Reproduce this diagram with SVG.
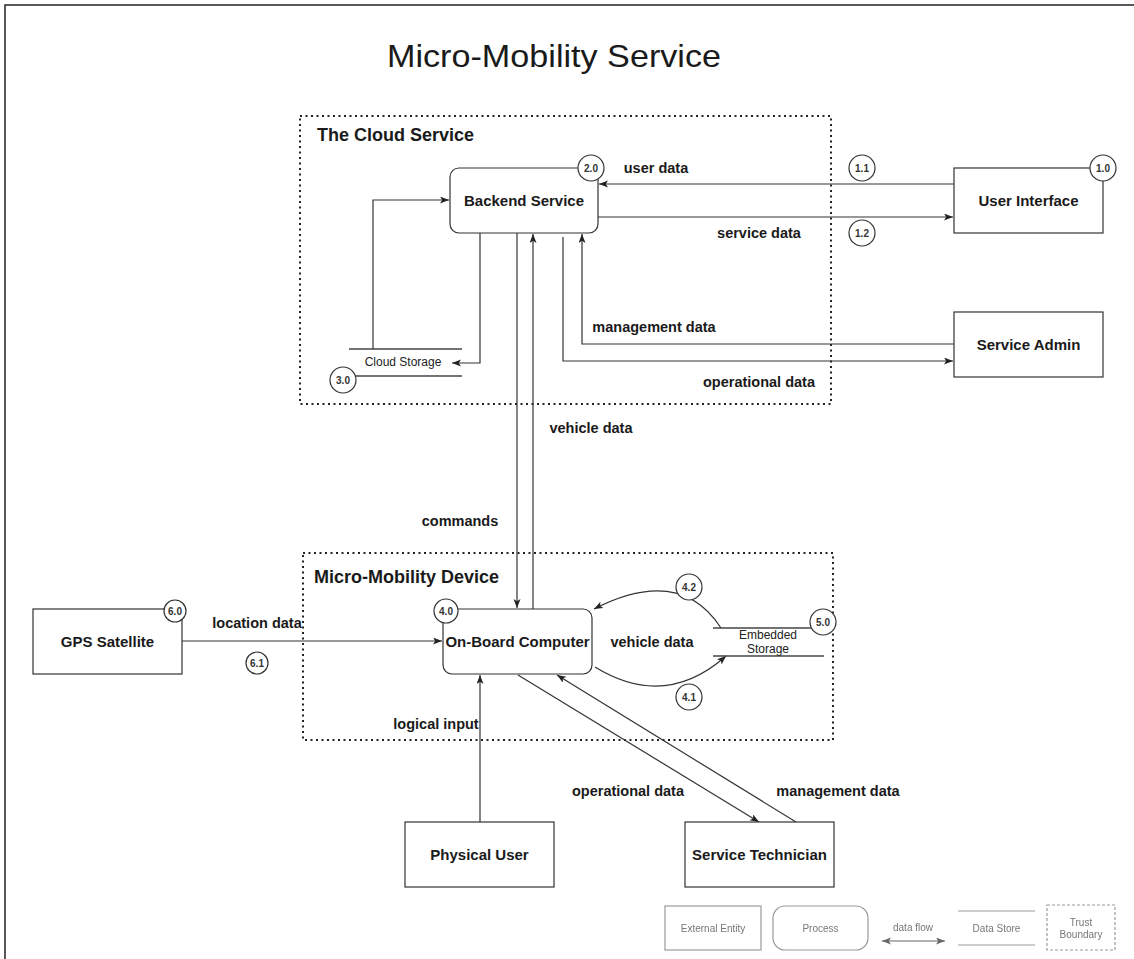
<svg xmlns="http://www.w3.org/2000/svg" width="1134" height="959" viewBox="0 0 1134 959">
  <style>
    text { font-family: "Liberation Sans", Arial, sans-serif; fill: #1a1a1a; }
    .box { fill: #fff; stroke: #333; stroke-width: 1.2; }
    .name { font-size: 15px; font-weight: bold; text-anchor: middle; }
    .flow { font-size: 14.5px; font-weight: bold; text-anchor: middle; }
    .heading { font-size: 18px; font-weight: bold; }
    .num circle { fill: #fff; stroke: #333; stroke-width: 1.2; }
    .num text { font-size: 10px; font-weight: bold; text-anchor: middle; fill: #333; }
    .boundary { fill: none; stroke: #222; stroke-width: 2; stroke-dasharray: 2 3.5; }
    .store { stroke: #444; stroke-width: 1.5; }
    .store-text { font-size: 12px; text-anchor: middle; fill: #222; }
    #connectors path { fill: none; stroke: #333; stroke-width: 1.2; marker-end: url(#arrow); }
    #legend text { font-size: 10px; text-anchor: middle; fill: #777; }
    #legend .shape { fill: none; stroke: #9a9a9a; stroke-width: 1.2; }
  </style>
  <defs>
    <marker id="arrow" markerUnits="userSpaceOnUse" markerWidth="10" markerHeight="8" refX="9" refY="3.5" orient="auto">
      <path d="M0,0 L9,3.5 L0,7 L2.2,3.5 Z" fill="#222"/>
    </marker>
    <marker id="arrow-grey" markerUnits="userSpaceOnUse" markerWidth="10" markerHeight="8" refX="9" refY="3.5" orient="auto-start-reverse">
      <path d="M0,0 L9,3.5 L0,7 L2.2,3.5 Z" fill="#666"/>
    </marker>
    <filter id="soft" x="-5%" y="-5%" width="110%" height="110%">
      <feGaussianBlur stdDeviation="0.4"/>
    </filter>
  </defs>

  <!-- page frame -->
  <path d="M5,959 V5 H1134" fill="none" stroke="#222" stroke-width="1.5"/>

  <!-- title -->
  <text x="387" y="67" font-size="32" textLength="334" lengthAdjust="spacingAndGlyphs">Micro-Mobility Service</text>

  <!-- trust boundaries -->
  <g id="cloud-boundary">
    <rect class="boundary" x="300" y="116" width="531" height="288"/>
    <text class="heading" x="317" y="141">The Cloud Service</text>
  </g>
  <g id="device-boundary">
    <rect class="boundary" x="303" y="553" width="530" height="187"/>
    <text class="heading" x="314" y="583">Micro-Mobility Device</text>
  </g>

  <!-- data flows -->
  <g id="connectors">
    <path d="M954,184 H599"/>
    <path d="M598,217 H953"/>
    <path d="M954,344 H582 V234"/>
    <path d="M563,237 V361 H953"/>
    <path d="M373,349 V200 H449"/>
    <path d="M480,233 V363 H452"/>
    <path d="M517,233 V608"/>
    <path d="M533,609 V234"/>
    <path d="M182,641 H442"/>
    <path d="M721,628 Q680,565 594,609"/>
    <path d="M595,667 Q665,710 726,656"/>
    <path d="M480,822 V675"/>
    <path d="M518,675 L759,822"/>
    <path d="M796,822 L557,675"/>
  </g>

  <!-- flow labels -->
  <g id="flow-labels">
    <text class="flow" x="656" y="173">user data</text>
    <text class="flow" x="759" y="238">service data</text>
    <text class="flow" x="654" y="332">management data</text>
    <text class="flow" x="759" y="387">operational data</text>
    <text class="flow" x="591" y="433">vehicle data</text>
    <text class="flow" x="460" y="526">commands</text>
    <text class="flow" x="257" y="628">location data</text>
    <text class="flow" x="652" y="647">vehicle data</text>
    <text class="flow" x="436" y="729">logical input</text>
    <text class="flow" x="628" y="796">operational data</text>
    <text class="flow" x="838" y="796">management data</text>
  </g>

  <!-- nodes -->
  <g id="user-interface">
    <rect class="box" x="954" y="168" width="149" height="65"/>
    <text class="name" x="1028.5" y="205.5">User Interface</text>
  </g>
  <g id="service-admin">
    <rect class="box" x="954" y="312" width="149" height="65"/>
    <text class="name" x="1028.5" y="349.5">Service Admin</text>
  </g>
  <g id="backend-service">
    <rect class="box" x="450" y="168" width="148" height="65" rx="9"/>
    <text class="name" x="524" y="205.5">Backend Service</text>
  </g>
  <g id="cloud-storage">
    <line class="store" x1="349" y1="349" x2="462" y2="349"/>
    <line class="store" x1="355" y1="376" x2="462" y2="376"/>
    <text class="store-text" x="403" y="366">Cloud Storage</text>
  </g>
  <g id="on-board-computer">
    <rect class="box" x="443" y="609" width="149" height="65" rx="9"/>
    <text class="name" x="517.5" y="646.5">On-Board Computer</text>
  </g>
  <g id="embedded-storage">
    <line class="store" x1="713" y1="628" x2="822" y2="628"/>
    <line class="store" x1="713" y1="656" x2="824" y2="656"/>
    <text class="store-text" x="768" y="639" font-size="11.5">Embedded</text>
    <text class="store-text" x="768" y="653" font-size="11.5">Storage</text>
  </g>
  <g id="gps-satellite">
    <rect class="box" x="33" y="609" width="149" height="65"/>
    <text class="name" x="107.5" y="646.5">GPS Satellite</text>
  </g>
  <g id="physical-user">
    <rect class="box" x="405" y="822" width="149" height="65"/>
    <text class="name" x="479.5" y="859.5">Physical User</text>
  </g>
  <g id="service-technician">
    <rect class="box" x="685" y="822" width="149" height="65"/>
    <text class="name" x="759.5" y="859.5">Service Technician</text>
  </g>

  <!-- reference numbers -->
  <g class="num" id="numbers">
    <circle cx="1103" cy="168" r="13"/><text x="1103" y="171.5">1.0</text>
    <circle cx="862" cy="168" r="13"/><text x="862" y="171.5">1.1</text>
    <circle cx="862" cy="233" r="13"/><text x="862" y="236.5">1.2</text>
    <circle cx="591" cy="168" r="13"/><text x="591" y="171.5">2.0</text>
    <circle cx="343" cy="380" r="13"/><text x="343" y="383.5">3.0</text>
    <circle cx="446" cy="611" r="12"/><text x="446" y="614.5">4.0</text>
    <circle cx="689" cy="697" r="13"/><text x="689" y="700.5">4.1</text>
    <circle cx="689" cy="587" r="13"/><text x="689" y="590.5">4.2</text>
    <circle cx="823" cy="622" r="13"/><text x="823" y="625.5">5.0</text>
    <circle cx="175" cy="611" r="11"/><text x="175" y="614.5">6.0</text>
    <circle cx="257" cy="663" r="11"/><text x="257" y="666.5">6.1</text>
  </g>

  <!-- key -->
  <g id="legend" filter="url(#soft)">
    <rect class="shape" x="665" y="906" width="96" height="44"/>
    <text x="713" y="932">External Entity</text>
    <rect class="shape" x="773" y="906" width="95" height="44" rx="12"/>
    <text x="820.5" y="932">Process</text>
    <text x="913" y="931">data flow</text>
    <line x1="882" y1="941" x2="945" y2="941" stroke="#666" stroke-width="1.2" marker-start="url(#arrow-grey)" marker-end="url(#arrow-grey)"/>
    <line class="shape" x1="958" y1="911" x2="1035" y2="911"/>
    <line class="shape" x1="958" y1="945" x2="1035" y2="945"/>
    <text x="996.5" y="932">Data Store</text>
    <rect class="shape" x="1047" y="905" width="68" height="45" stroke-dasharray="3 2"/>
    <text x="1081" y="926">Trust</text>
    <text x="1081" y="938">Boundary</text>
  </g>
</svg>
